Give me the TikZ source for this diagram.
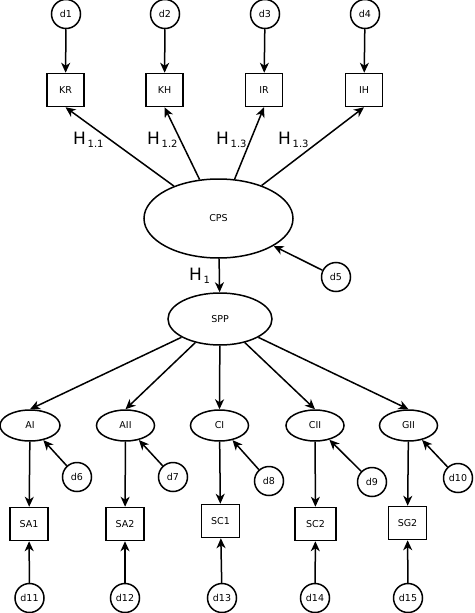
\documentclass[tikz,border=0pt]{standalone}
\usepackage{fontspec}
\setmainfont{DejaVu Sans}
\usepackage{tikz}
\usetikzlibrary{arrows.meta}
\usetikzlibrary{shapes.geometric}
\pgfdeclarelayer{edgelayer}
\pgfdeclarelayer{nodelayer}
\pgfsetlayers{edgelayer,nodelayer,main}
\tikzstyle{error_var}=[circle,draw=black,line width=1.5pt,minimum size=29pt,inner sep=0pt,font=\fontsize{9.5}{9.5}\selectfont]
\tikzstyle{indicator}=[rectangle,draw=black,line width=1.5pt,minimum width=38pt,minimum height=33pt,inner sep=0pt,font=\fontsize{9.5}{9.5}\selectfont]
\tikzstyle{latent}=[ellipse,draw=black,line width=1.5pt,minimum width=58pt,minimum height=31pt,inner sep=0pt,font=\fontsize{9.5}{9.5}\selectfont]
\tikzstyle{path_arrow}=[-{Stealth[length=10pt,width=9pt,inset=3pt]},draw=black,line width=1.5pt]
\tikzstyle{hyp_label}=[anchor=base west,inner sep=0pt]
\newcommand{\hyp}[1]{{\fontsize{17}{17}\selectfont H}\,\raisebox{-3pt}{\fontsize{10}{10}\selectfont #1}}

\begin{document}
\begin{tikzpicture}[x=1pt,y=-1pt]
	\useasboundingbox (0,0) rectangle (474,613);
	\begin{pgfonlayer}{nodelayer}
		\node [style={error_var}] (d1) at (66, 14) {d1};
		\node [style={error_var}] (d2) at (165, 14) {d2};
		\node [style={error_var}] (d3) at (265, 14) {d3};
		\node [style={error_var}] (d4) at (365, 14) {d4};
		\node [style=indicator, minimum width=37pt] (kr) at (65.5, 90) {KR};
		\node [style=indicator, minimum width=37pt] (kh) at (164.5, 90) {KH};
		\node [style=indicator, minimum width=37pt] (ir) at (264, 90) {IR};
		\node [style=indicator, minimum width=37pt] (ih) at (364, 90) {IH};
		\node [style=latent, minimum width=149pt, minimum height=79pt] (cps) at (218.5, 218.5) {CPS};
		\node [style={error_var}] (d5) at (336, 277) {d5};
		\node [style=latent, minimum width=104pt, minimum height=52pt] (spp) at (220, 319) {SPP};
		\node [style=latent, minimum width=60pt] (ai) at (30, 425.5) {AI};
		\node [style=latent] (aii) at (125.5, 425.5) {AII};
		\node [style=latent] (ci) at (219.5, 425.5) {CI};
		\node [style=latent] (cii) at (315, 425.5) {CII};
		\node [style=latent] (gii) at (408.5, 425.5) {GII};
		\node [style={error_var}] (d6) at (77, 477) {d6};
		\node [style={error_var}] (d7) at (173, 477) {d7};
		\node [style={error_var}] (d8) at (269, 481) {d8};
		\node [style={error_var}] (d9) at (372, 482) {d9};
		\node [style={error_var}] (d10) at (458, 478) {d10};
		\node [style=indicator] (sa1) at (29, 524) {SA1};
		\node [style=indicator] (sa2) at (125, 524) {SA2};
		\node [style=indicator] (sc1) at (220.5, 521) {SC1};
		\node [style=indicator, minimum width=41pt] (sc2) at (315.5, 524) {SC2};
		\node [style=indicator] (sg2) at (407.5, 523) {SG2};
		\node [style={error_var}] (d11) at (29.5, 598) {d11};
		\node [style={error_var}] (d12) at (125, 598) {d12};
		\node [style={error_var}] (d13) at (222, 598) {d13};
		\node [style={error_var}] (d14) at (315, 598) {d14};
		\node [style={error_var}] (d15) at (408, 598) {d15};
		\node [style={hyp_label}] (h11) at (73, 144) {\hyp{1.1}};
		\node [style={hyp_label}] (h12) at (147, 144) {\hyp{1.2}};
		\node [style={hyp_label}] (h13) at (216, 144) {\hyp{1.3}};
		\node [style={hyp_label}] (h14) at (278, 144) {\hyp{1.3}};
		\node [style={hyp_label}] (h1) at (189, 280) {\hyp{1}};
	\end{pgfonlayer}
	\begin{pgfonlayer}{edgelayer}
		\draw [style={path_arrow}] (d1) to (kr);
		\draw [style={path_arrow}] (d2) to (kh);
		\draw [style={path_arrow}] (d3) to (ir);
		\draw [style={path_arrow}] (d4) to (ih);
		\draw [style={path_arrow}] (cps) to (kr.south);
		\draw [style={path_arrow}] (cps) to (kh.south);
		\draw [style={path_arrow}] (cps) to (ir.south);
		\draw [style={path_arrow}] (cps) to (ih.south);
		\draw [style={path_arrow}] (d5) to (cps);
		\draw [style={path_arrow}] (cps) to (spp);
		\draw [style={path_arrow}] (spp) to (ai.north);
		\draw [style={path_arrow}] (spp) to (aii.north);
		\draw [style={path_arrow}] (spp) to (ci.north);
		\draw [style={path_arrow}] (spp) to (cii.north);
		\draw [style={path_arrow}] (spp) to (gii.north);
		\draw [style={path_arrow}] (d6) to (ai);
		\draw [style={path_arrow}] (d7) to (aii);
		\draw [style={path_arrow}] (d8) to (ci);
		\draw [style={path_arrow}] (d9) to (cii);
		\draw [style={path_arrow}] (d10) to (gii);
		\draw [style={path_arrow}] (ai) to (sa1);
		\draw [style={path_arrow}] (aii) to (sa2);
		\draw [style={path_arrow}] (ci) to (sc1);
		\draw [style={path_arrow}] (cii) to (sc2);
		\draw [style={path_arrow}] (gii) to (sg2);
		\draw [style={path_arrow}] (d11) to (sa1);
		\draw [style={path_arrow}] (d12) to (sa2);
		\draw [style={path_arrow}] (d13) to (sc1);
		\draw [style={path_arrow}] (d14) to (sc2);
		\draw [style={path_arrow}] (d15) to (sg2);
	\end{pgfonlayer}
\end{tikzpicture}
\end{document}
